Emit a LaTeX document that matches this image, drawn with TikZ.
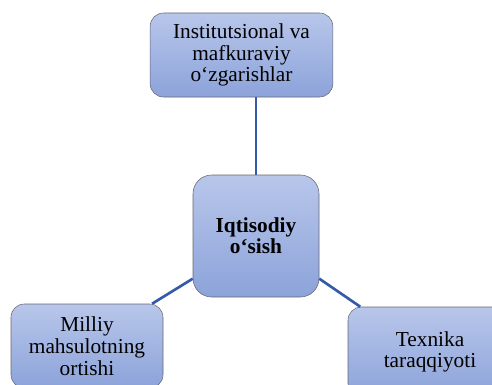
\documentclass[tikz,border=0pt]{standalone}
\usepackage{fontspec}
\setmainfont{Liberation Serif}
\usetikzlibrary{positioning, calc, shapes}

\definecolor{boxtop}{RGB}{184,198,234}
\definecolor{boxbot}{RGB}{140,163,218}
\definecolor{boxline}{RGB}{100,104,116}
\definecolor{linkblue}{RGB}{52,90,168}

\begin{document}
\begin{tikzpicture}[x=0.75pt, y=-0.75pt]
        \tikzstyle{factor}=[draw=boxline, rectangle, rounded corners=10pt, top color=boxtop, bottom color=boxbot, align=center, inner sep=0pt, font=\fontsize{16}{16.3}\selectfont];
        \clip (0,0) rectangle (492,385);
        \node[factor, minimum width=137pt, minimum height=63pt] (inst) at (241.5,55) {Institutsional va\\mafkuraviy\\o‘zgarishlar};
        \node[factor, rounded corners=14pt, minimum width=94.5pt, minimum height=91.5pt, font=\fontsize{16}{15.5}\selectfont\bfseries] (growth) at (256,236) {Iqtisodiy\\o‘sish};
        \node[factor, minimum width=114pt, minimum height=63pt] (product) at (87,346) {Milliy\\mahsulotning\\ortishi};
        \node[factor, minimum width=123pt, minimum height=67.5pt] (tech) at (430,352) {Texnika\\taraqqiyoti};

        \path[draw=linkblue, line width=2pt]
        (growth.north) edge (growth.north |- inst.south)
        (growth.214) edge (product.33.5)
        (growth.-34) edge (tech.147);
      \end{tikzpicture}
\end{document}
